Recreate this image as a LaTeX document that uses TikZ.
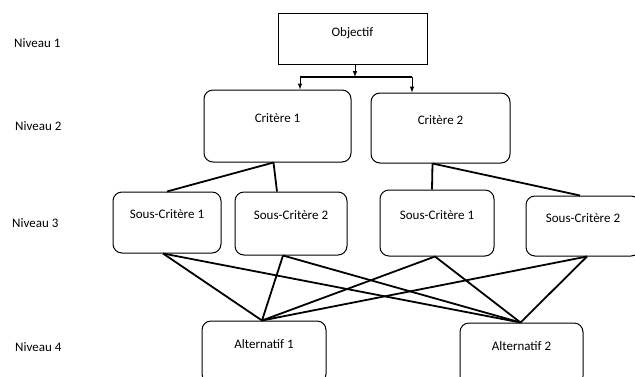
\documentclass[tikz,border=0pt]{standalone}
\usepackage{fontspec}
\setmainfont{Carlito}
\usepackage{tikz}
\usetikzlibrary{arrows}

\begin{document}
\begin{tikzpicture}[x=1pt, y=-1pt, font=\fontsize{13}{16}\selectfont]
\tikzstyle{level} = [anchor=west, inner sep=0 pt]
\tikzstyle{goal} = [rectangle, draw=black, line width=1 pt, text depth=14 pt, text centered]
\tikzstyle{crit} = [rectangle, rounded corners=9 pt, draw=black, line width=1 pt, text depth=16 pt, text centered]
\tikzstyle{link} = [line width=1.8 pt]
\clip (0,0) rectangle (635,376);

\node (n1) [level] at (14,43)  {Niveau 1};
\node (n2) [level] at (15,126) {Niveau 2};
\node (n3) [level] at (12,223) {Niveau 3};
\node (n4) [level] at (15,347) {Niveau 4};

\node (obj)  [goal, minimum width=149 pt, minimum height=51 pt] at (352.5,38.5) {Objectif};
\node (c1)   [crit, minimum width=147 pt, minimum height=72 pt] at (277.5,126) {Critère 1};
\node (c2)   [crit, minimum width=139 pt, minimum height=70 pt] at (440.5,128) {Critère 2};
\node (sc11) [crit, minimum width=108 pt, minimum height=61 pt] at (167,222.5) {Sous-Critère 1};
\node (sc12) [crit, minimum width=112 pt, minimum height=63 pt] at (291,223.5) {Sous-Critère 2};
\node (sc21) [crit, minimum width=114 pt, minimum height=66 pt] at (437,223) {Sous-Critère 1};
\node (sc22) [crit, minimum width=114 pt, minimum height=60 pt] at (583,226) {Sous-Critère 2};
\node (a1)   [crit, minimum width=124 pt, minimum height=62 pt] at (264,352) {Alternatif 1};
\node (a2)   [crit, minimum width=123 pt, minimum height=62 pt] at (521.5,354) {Alternatif 2};

\coordinate (bar) at (355,77);
\coordinate (bl) at (300,77);
\coordinate (br) at (412,77);
\draw [-latex, line width=1 pt] (obj.south -| bar) -- (bar);
\draw [line width=2.4 pt] (bl) -- (br);
\draw [-latex, line width=1 pt] (bl) -- (bl |- c1.north);
\draw [-latex, line width=1 pt] (br) -- (br |- c2.north);

\draw [link] ([xshift=-4 pt]c1.south) -- (sc11.north);
\draw [link] ([xshift=-4 pt]c1.south) -- ([xshift=-14 pt]sc12.north);
\draw [link] ([xshift=-8 pt]c2.south) -- ([xshift=-5 pt]sc21.north);
\draw [link] ([xshift=-8 pt]c2.south) -- ([xshift=-3 pt]sc22.north);

\foreach \s/\d in {sc11/-4, sc12/-8, sc21/-2, sc22/4} {
  \draw [link] ([xshift=\d pt]\s.south) -- ([xshift=-2 pt]a1.north);
  \draw [link] ([xshift=\d pt]\s.south) -- ([xshift=-1 pt]a2.north);
}

\end{tikzpicture}
\end{document}
